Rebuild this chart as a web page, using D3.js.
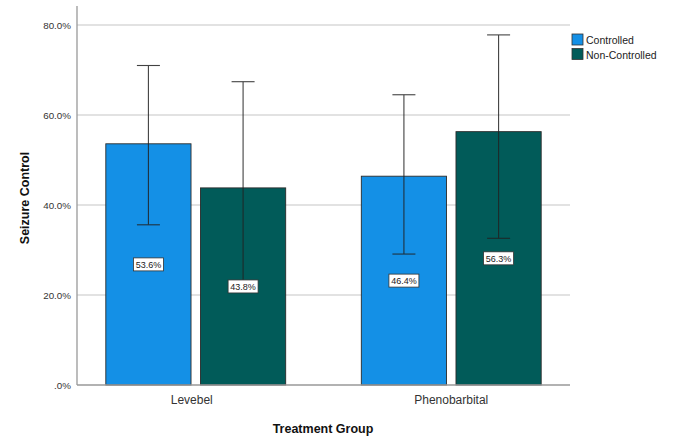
<!DOCTYPE html>
<html><head><meta charset="utf-8">
<script src="https://cdn.jsdelivr.net/npm/d3@7"></script>
<style>body{margin:0;background:#fff;}svg{display:block;font-family:Arial,"Liberation Sans",sans-serif;}</style>
</head><body>
<svg id="c" width="687" height="445"></svg>
<script>
const groups = ["Levebel", "Phenobarbital"];
const series = ["Controlled", "Non-Controlled"];
const controlledValues = [53.6, 46.4];
const nonControlledValues = [43.8, 56.3];
const controlledLow = [35.6, 29.1];
const controlledHigh = [71.0, 64.5];
const nonControlledLow = [22.5, 32.6];
const nonControlledHigh = [67.4, 77.8];
const yTicks = [0, 20, 40, 60, 80];
const colors = ["#1490e6", "#015b59"];

const svg = d3.select("#c");
const plotL = 77, plotR = 570, plotT = 6, plotB = 385;

const y = d3.scaleLinear().domain([0, 80]).range([plotB, 25]);
const x0 = d3.scaleBand().domain(groups).range([68, 579]).paddingInner(0).paddingOuter(0);
const x1 = d3.scaleBand().domain(series).range([x0.bandwidth()*0.148, x0.bandwidth()*0.852]).paddingInner(0.1);

// gridlines
svg.append("g").selectAll("line").data(yTicks.filter(d => d > 0)).join("line")
  .attr("x1", plotL).attr("x2", plotR)
  .attr("y1", d => y(d)).attr("y2", d => y(d))
  .attr("stroke", "#d9d9d9").attr("stroke-width", 1.3);

// y axis
const yAxis = d3.axisLeft(y).tickValues(yTicks).tickSize(0).tickPadding(6)
  .tickFormat(d => d === 0 ? ".0%" : d.toFixed(1) + "%");
const ya = svg.append("g").attr("transform", `translate(${plotL},0)`).call(yAxis);
ya.select(".domain").remove();
ya.selectAll("text").attr("font-size", 9.8).attr("fill", "#333").attr("font-family", "Arial,'Liberation Sans',sans-serif");
svg.append("line").attr("x1", plotL).attr("x2", plotL).attr("y1", plotT).attr("y2", plotB).attr("stroke", "#999").attr("stroke-width", 1.3);

// data rows
const rows = [];
groups.forEach((g, i) => {
  rows.push({g, s: series[0], v: controlledValues[i], lo: controlledLow[i], hi: controlledHigh[i], c: colors[0]});
  rows.push({g, s: series[1], v: nonControlledValues[i], lo: nonControlledLow[i], hi: nonControlledHigh[i], c: colors[1]});
});

// bars
svg.append("g").selectAll("rect").data(rows).join("rect")
  .attr("x", d => x0(d.g) + x1(d.s))
  .attr("width", x1.bandwidth())
  .attr("y", d => y(d.v))
  .attr("height", d => y(0) - y(d.v))
  .attr("fill", d => d.c).attr("stroke", "#2b2b2b").attr("stroke-width", 0.9);

// x axis baseline
svg.append("line").attr("x1", plotL).attr("x2", plotR).attr("y1", plotB).attr("y2", plotB).attr("stroke", "#999").attr("stroke-width", 1.3);

// error bars
const eb = svg.append("g").attr("stroke", "#222").attr("stroke-width", 1.1).attr("opacity", 0.85);
rows.forEach(d => {
  const cx = x0(d.g) + x1(d.s) + x1.bandwidth()/2;
  eb.append("line").attr("x1", cx).attr("x2", cx).attr("y1", y(d.hi)).attr("y2", y(d.lo));
  eb.append("line").attr("x1", cx-11.5).attr("x2", cx+11.5).attr("y1", y(d.hi)).attr("y2", y(d.hi));
  eb.append("line").attr("x1", cx-11.5).attr("x2", cx+11.5).attr("y1", y(d.lo)).attr("y2", y(d.lo));
});

// value labels
const lab = svg.append("g");
rows.forEach(d => {
  const cx = x0(d.g) + x1(d.s) + x1.bandwidth()/2;
  const cy = y(d.v/2);
  lab.append("rect").attr("x", cx-15).attr("y", cy-6.5).attr("width", 30).attr("height", 13)
    .attr("fill", "#fff").attr("stroke", "#333").attr("stroke-width", 0.8);
  lab.append("text").attr("x", cx).attr("y", cy+3.3).attr("text-anchor", "middle")
    .attr("font-size", 9).attr("fill", "#222").text(d.v.toFixed(1) + "%");
});

// x category labels
svg.append("g").selectAll("text").data(groups).join("text")
  .attr("x", d => x0(d) + x0.bandwidth()/2 + (d === groups[0] ? -4 : 0))
  .attr("y", 404).attr("text-anchor", "middle")
  .attr("font-size", 12).attr("fill", "#333").text(d => d);

// axis titles
svg.append("text").attr("x", 323).attr("y", 433).attr("text-anchor", "middle")
  .attr("font-size", 12.5).attr("font-weight", "bold").attr("fill", "#111").text("Treatment Group");
svg.append("text").attr("transform", "translate(29,198) rotate(-90)").attr("text-anchor", "middle")
  .attr("font-size", 12.5).attr("font-weight", "bold").attr("fill", "#111").text("Seizure Control");

// legend
const lg = svg.append("g").attr("transform", "translate(572,34)");
series.forEach((s, i) => {
  lg.append("rect").attr("x", 0).attr("y", i*14.5).attr("width", 11).attr("height", 11)
    .attr("fill", colors[i]).attr("stroke", "#333").attr("stroke-width", 0.8);
  lg.append("text").attr("x", 14).attr("y", i*14.5 + 10).attr("font-size", 10.5).attr("fill", "#222").text(s);
});
</script>
</body></html>
